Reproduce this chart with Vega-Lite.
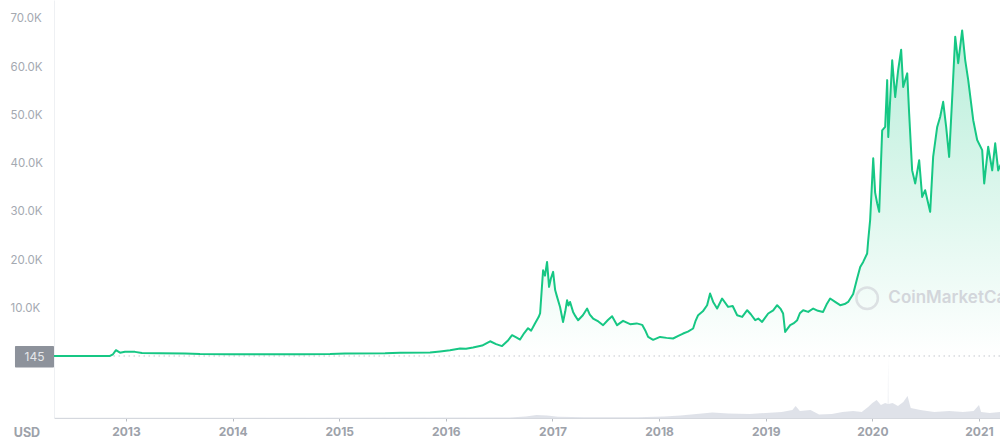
{
  "$schema": "https://vega.github.io/schema/vega-lite/v6.json",
  "autosize": {"type": "none"},
  "width": 946,
  "height": 418,
  "padding": {"left": 54, "top": 0, "right": 0, "bottom": 26},
  "background": "white",
  "config": {"view": {"stroke": null}, "font": "Inter"},
  "datasets": {
    "price": [
      {"yr": 2012.325, "price": 150}, {"yr": 2012.568, "price": 150}, {"yr": 2012.850, "price": 170},
      {"yr": 2012.878, "price": 500}, {"yr": 2012.906, "price": 1350}, {"yr": 2012.944, "price": 830},
      {"yr": 2012.991, "price": 1030}, {"yr": 2013.084, "price": 1000}, {"yr": 2013.150, "price": 750},
      {"yr": 2013.319, "price": 700}, {"yr": 2013.553, "price": 680}, {"yr": 2013.694, "price": 560},
      {"yr": 2013.976, "price": 520}, {"yr": 2014.257, "price": 500}, {"yr": 2014.632, "price": 500},
      {"yr": 2014.914, "price": 560}, {"yr": 2015.054, "price": 660}, {"yr": 2015.430, "price": 700},
      {"yr": 2015.572, "price": 830}, {"yr": 2015.852, "price": 870}, {"yr": 2015.946, "price": 1100},
      {"yr": 2016.039, "price": 1350}, {"yr": 2016.133, "price": 1700}, {"yr": 2016.189, "price": 1650},
      {"yr": 2016.255, "price": 1900}, {"yr": 2016.340, "price": 2300}, {"yr": 2016.415, "price": 3200},
      {"yr": 2016.471, "price": 2600}, {"yr": 2016.527, "price": 2200}, {"yr": 2016.580, "price": 3300},
      {"yr": 2016.621, "price": 4450}, {"yr": 2016.660, "price": 4000},
      {"yr": 2016.696, "price": 3560}, {"yr": 2016.735, "price": 4900}, {"yr": 2016.771, "price": 5900},
      {"yr": 2016.800, "price": 5400}, {"yr": 2016.837, "price": 6940},
      {"yr": 2016.870, "price": 8200}, {"yr": 2016.884, "price": 9000}, {"yr": 2016.898, "price": 13500},
      {"yr": 2016.912, "price": 17900}, {"yr": 2016.930, "price": 16800}, {"yr": 2016.949, "price": 19640},
      {"yr": 2016.968, "price": 14460}, {"yr": 2016.985, "price": 16200}, {"yr": 2017.006, "price": 17570},
      {"yr": 2017.025, "price": 13800}, {"yr": 2017.043, "price": 12390},
      {"yr": 2017.071, "price": 10300}, {"yr": 2017.099, "price": 7200}, {"yr": 2017.120, "price": 9400},
      {"yr": 2017.137, "price": 11700}, {"yr": 2017.150, "price": 10600},
      {"yr": 2017.165, "price": 11350}, {"yr": 2017.193, "price": 9280}, {"yr": 2017.215, "price": 8400},
      {"yr": 2017.240, "price": 7560}, {"yr": 2017.285, "price": 8600},
      {"yr": 2017.325, "price": 9980}, {"yr": 2017.350, "price": 8700}, {"yr": 2017.381, "price": 7910},
      {"yr": 2017.430, "price": 7300}, {"yr": 2017.475, "price": 6530}, {"yr": 2017.520, "price": 7600},
      {"yr": 2017.559, "price": 8390}, {"yr": 2017.606, "price": 6530}, {"yr": 2017.662, "price": 7420},
      {"yr": 2017.728, "price": 6730}, {"yr": 2017.790, "price": 6900}, {"yr": 2017.841, "price": 6600},
      {"yr": 2017.869, "price": 5490},
      {"yr": 2017.897, "price": 4100}, {"yr": 2017.944, "price": 3500}, {"yr": 2018.009, "price": 4100},
      {"yr": 2018.070, "price": 3900}, {"yr": 2018.131, "price": 3770}, {"yr": 2018.180, "price": 4300},
      {"yr": 2018.225, "price": 4800}, {"yr": 2018.270, "price": 5200}, {"yr": 2018.319, "price": 5840},
      {"yr": 2018.340, "price": 7300}, {"yr": 2018.366, "price": 8600}, {"yr": 2018.410, "price": 9400},
      {"yr": 2018.450, "price": 10670}, {"yr": 2018.478, "price": 13090},
      {"yr": 2018.507, "price": 11350}, {"yr": 2018.544, "price": 9980}, {"yr": 2018.591, "price": 12050},
      {"yr": 2018.647, "price": 10320}, {"yr": 2018.690, "price": 10500}, {"yr": 2018.732, "price": 8600},
      {"yr": 2018.779, "price": 8250},
      {"yr": 2018.826, "price": 9630}, {"yr": 2018.860, "price": 8800}, {"yr": 2018.901, "price": 7560},
      {"yr": 2018.930, "price": 7900}, {"yr": 2018.966, "price": 7210},
      {"yr": 2019.023, "price": 8950}, {"yr": 2019.070, "price": 9600}, {"yr": 2019.107, "price": 10670},
      {"yr": 2019.140, "price": 9900}, {"yr": 2019.163, "price": 8950},
      {"yr": 2019.182, "price": 5140}, {"yr": 2019.229, "price": 6530}, {"yr": 2019.260, "price": 6900},
      {"yr": 2019.295, "price": 7560}, {"yr": 2019.320, "price": 9000},
      {"yr": 2019.351, "price": 9630}, {"yr": 2019.398, "price": 9280}, {"yr": 2019.445, "price": 9980},
      {"yr": 2019.490, "price": 9500}, {"yr": 2019.538, "price": 9280}, {"yr": 2019.570, "price": 10800},
      {"yr": 2019.604, "price": 12060}, {"yr": 2019.651, "price": 11350},
      {"yr": 2019.698, "price": 10670}, {"yr": 2019.740, "price": 10900}, {"yr": 2019.773, "price": 11350},
      {"yr": 2019.820, "price": 13000},
      {"yr": 2019.857, "price": 16200}, {"yr": 2019.886, "price": 18600}, {"yr": 2019.914, "price": 19640},
      {"yr": 2019.951, "price": 21380}, {"yr": 2019.961, "price": 24130}, {"yr": 2019.979, "price": 28300},
      {"yr": 2020.008, "price": 41100}, {"yr": 2020.026, "price": 34000}, {"yr": 2020.045, "price": 31800},
      {"yr": 2020.064, "price": 30000}, {"yr": 2020.092, "price": 46900}, {"yr": 2020.120, "price": 47600},
      {"yr": 2020.139, "price": 57300}, {"yr": 2020.149, "price": 45500}, {"yr": 2020.186, "price": 61400},
      {"yr": 2020.214, "price": 53800}, {"yr": 2020.242, "price": 59400}, {"yr": 2020.270, "price": 63600},
      {"yr": 2020.289, "price": 55900}, {"yr": 2020.327, "price": 58700}, {"yr": 2020.345, "price": 50400},
      {"yr": 2020.373, "price": 38600}, {"yr": 2020.402, "price": 35900}, {"yr": 2020.439, "price": 40700},
      {"yr": 2020.467, "price": 33100}, {"yr": 2020.495, "price": 34500}, {"yr": 2020.542, "price": 30000},
      {"yr": 2020.570, "price": 41400}, {"yr": 2020.608, "price": 47600}, {"yr": 2020.636, "price": 49700},
      {"yr": 2020.664, "price": 52800}, {"yr": 2020.692, "price": 47600}, {"yr": 2020.720, "price": 41400},
      {"yr": 2020.749, "price": 53800}, {"yr": 2020.777, "price": 66300}, {"yr": 2020.805, "price": 60800},
      {"yr": 2020.842, "price": 67600}, {"yr": 2020.871, "price": 61400}, {"yr": 2020.899, "price": 57300},
      {"yr": 2020.946, "price": 49000}, {"yr": 2020.983, "price": 44900}, {"yr": 2021.030, "price": 42800},
      {"yr": 2021.049, "price": 35900}, {"yr": 2021.086, "price": 43500}, {"yr": 2021.124, "price": 38600},
      {"yr": 2021.152, "price": 44200}, {"yr": 2021.180, "price": 38600}, {"yr": 2021.208, "price": 40000}
    ],
    "volume": [
      {"yr": 2012.325, "vol": 0.3}, {"yr": 2016.60, "vol": 0.4}, {"yr": 2016.75, "vol": 1.5},
      {"yr": 2016.85, "vol": 3}, {"yr": 2016.95, "vol": 2.5}, {"yr": 2017.05, "vol": 1.2},
      {"yr": 2017.30, "vol": 0.8}, {"yr": 2017.80, "vol": 0.8}, {"yr": 2018.05, "vol": 1.5},
      {"yr": 2018.20, "vol": 2.5}, {"yr": 2018.35, "vol": 4}, {"yr": 2018.50, "vol": 5.5},
      {"yr": 2018.65, "vol": 4.5}, {"yr": 2018.85, "vol": 4}, {"yr": 2019.00, "vol": 5},
      {"yr": 2019.15, "vol": 6}, {"yr": 2019.25, "vol": 8}, {"yr": 2019.28, "vol": 12},
      {"yr": 2019.32, "vol": 7}, {"yr": 2019.42, "vol": 8}, {"yr": 2019.50, "vol": 3.5},
      {"yr": 2019.62, "vol": 4}, {"yr": 2019.72, "vol": 6}, {"yr": 2019.82, "vol": 7},
      {"yr": 2019.90, "vol": 6}, {"yr": 2019.96, "vol": 11}, {"yr": 2020.00, "vol": 15},
      {"yr": 2020.04, "vol": 18}, {"yr": 2020.08, "vol": 13}, {"yr": 2020.12, "vol": 15},
      {"yr": 2020.145, "vol": 14}, {"yr": 2020.1475, "vol": 61}, {"yr": 2020.150, "vol": 14},
      {"yr": 2020.19, "vol": 15}, {"yr": 2020.24, "vol": 12}, {"yr": 2020.29, "vol": 16},
      {"yr": 2020.33, "vol": 22}, {"yr": 2020.36, "vol": 10}, {"yr": 2020.45, "vol": 8},
      {"yr": 2020.58, "vol": 6}, {"yr": 2020.72, "vol": 7}, {"yr": 2020.85, "vol": 6},
      {"yr": 2020.95, "vol": 7}, {"yr": 2021.0, "vol": 13}, {"yr": 2021.02, "vol": 6},
      {"yr": 2021.10, "vol": 5}, {"yr": 2021.208, "vol": 6}
    ],
    "startbox": [{"x1": 2011.959, "x2": 2012.325, "y1": -2240, "y2": 2240, "xc": 2012.142, "yc": 0, "label": "145"}],
    "usd": [{"yr": 2012.071, "price": -15800, "label": "USD"}],
    "mark": [{"yr": 2020.150, "price": 12100, "label": "CoinMarketCap", "lyr": 2019.951}]
  },
  "layer": [
    {
      "data": {"name": "volume"},
      "mark": {"type": "area", "color": "#dcdfe7", "opacity": 0.9, "clip": true},
      "encoding": {
        "x": {"field": "yr", "type": "quantitative", "scale": {"domain": [2012.325, 2021.197], "nice": false, "zero": false},
          "axis": {"values": [2013, 2014, 2015, 2016, 2017, 2018, 2019, 2020, 2021], "format": "d", "grid": false,
            "domainColor": "#d5d8de", "tickColor": "#b8bcc3", "tickSize": 3, "labelPadding": 5,
            "labelFont": "Inter", "labelFontSize": 12, "labelFontWeight": "bold", "labelColor": "#9da2aa", "title": null}},
        "y": {"field": "vol", "type": "quantitative", "scale": {"domain": [0, 418], "nice": false}, "axis": null}
      }
    },
    {
      "layer": [
        {
          "data": {"name": "price"},
          "mark": {
            "type": "area", "clip": true,
            "color": {"gradient": "linear", "x1": 0, "y1": 1, "x2": 0, "y2": 0,
              "stops": [{"offset": 0, "color": "rgba(22,199,132,0.0)"}, {"offset": 1, "color": "rgba(22,199,132,0.3)"}]}
          },
          "encoding": {
            "x": {"field": "yr", "type": "quantitative"},
            "y": {"field": "price", "type": "quantitative", "scale": {"domain": [-12700, 73900], "nice": false, "zero": false},
              "axis": {"values": [10000, 20000, 30000, 40000, 50000, 60000, 70000],
                "labelExpr": "format(datum.value / 1000, '.1f') + 'K'", "ticks": false, "labelAlign": "left", "labelPadding": 44,
                "labelFont": "Inter", "labelFontSize": 11.5, "labelColor": "#a4a9b1", "gridColor": "#f1f2f4", "domainColor": "#eef0f3", "title": null}},
            "y2": {"datum": 0}
          }
        },
        {
          "data": {"values": [{"price": 145}]},
          "mark": {"type": "rule", "color": "#c3c7cd", "strokeDash": [1.5, 3.5], "strokeWidth": 1},
          "encoding": {"y": {"field": "price", "type": "quantitative"}}
        },
        {
          "data": {"name": "price"},
          "mark": {"type": "line", "color": "#16c784", "strokeWidth": 2, "clip": true, "strokeJoin": "round"},
          "encoding": {
            "x": {"field": "yr", "type": "quantitative"},
            "y": {"field": "price", "type": "quantitative"}
          }
        },
        {
          "data": {"name": "startbox"},
          "mark": {"type": "rect", "color": "#8d929b", "cornerRadius": 1},
          "encoding": {
            "x": {"field": "x1", "type": "quantitative"}, "x2": {"field": "x2"},
            "y": {"field": "y1", "type": "quantitative"}, "y2": {"field": "y2"}
          }
        },
        {
          "data": {"name": "startbox"},
          "mark": {"type": "text", "color": "#e6e7ea", "font": "Inter", "fontSize": 12, "align": "center", "baseline": "middle"},
          "encoding": {
            "x": {"field": "xc", "type": "quantitative"},
            "y": {"field": "yc", "type": "quantitative"},
            "text": {"field": "label"}
          }
        },
        {
          "data": {"name": "usd"},
          "mark": {"type": "text", "color": "#9da2aa", "font": "Inter", "fontSize": 12.5, "fontWeight": "bold", "align": "center", "baseline": "middle"},
          "encoding": {
            "x": {"field": "yr", "type": "quantitative"},
            "y": {"field": "price", "type": "quantitative"},
            "text": {"field": "label"}
          }
        },
        {
          "data": {"name": "mark"},
          "mark": {"type": "point", "shape": "circle", "size": 460, "stroke": "#d3d6db", "strokeWidth": 2.5, "filled": false, "clip": true},
          "encoding": {
            "x": {"field": "lyr", "type": "quantitative"},
            "y": {"field": "price", "type": "quantitative"}
          }
        },
        {
          "data": {"name": "mark"},
          "mark": {"type": "text", "color": "#d3d6db", "font": "Inter", "fontSize": 17, "fontWeight": 600, "align": "left", "baseline": "middle", "clip": true},
          "encoding": {
            "x": {"field": "yr", "type": "quantitative"},
            "y": {"field": "price", "type": "quantitative"},
            "text": {"field": "label"}
          }
        }
      ]
    }
  ],
  "resolve": {"scale": {"y": "independent"}}
}
